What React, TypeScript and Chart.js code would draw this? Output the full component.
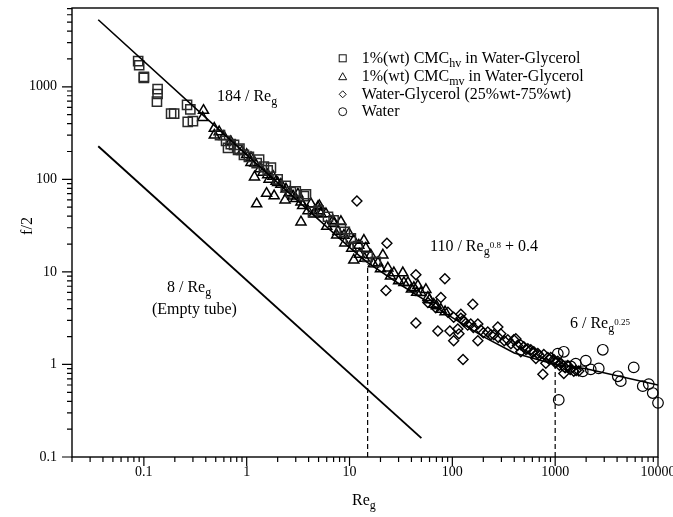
import React, { useEffect, useRef } from 'react';
import { Chart, registerables } from 'chart.js';

Chart.register(...registerables);

const FONT = "'Liberation Serif', 'Times New Roman', serif";

// ---- tick labels ----
const X_TICK_LABELS = ['0.1', '1', '10', '100', '1000', '10000'];
const Y_TICK_LABELS = ['0.1', '1', '10', '100', '1000'];

// ---- series: 1%(wt) CMC_hv in Water-Glycerol (squares) ----
const HV_RE = [0.088, 0.09, 0.1, 0.1, 0.136, 0.136, 0.134, 0.184, 0.197, 0.263, 0.283, 0.267, 0.3, 0.63, 0.658, 0.753, 0.824, 0.94, 1.32, 1.47, 1.72, 2.69, 3.77, 3.6, 4.41, 6.17, 8.25, 10.3, 0.55, 0.7, 0.85, 1.05, 1.25, 1.6, 2.0, 2.4, 3.0, 5.0, 7.0, 9.0, 12, 15, 18];
const HV_F = [1890, 1710, 1280, 1250, 945, 836, 692, 512, 512, 639, 569, 418, 425, 260, 219, 236, 208, 184, 163, 137, 134, 72.7, 69, 66, 44.6, 39.4, 29.4, 23, 300, 240, 215, 175, 150, 125, 100, 85, 74, 46, 36, 27, 19, 14.5, 12.8];

// ---- series: 1%(wt) CMC_mv in Water-Glycerol (triangles) ----
const MV_RE = [0.38, 0.373, 0.484, 0.484, 0.54, 1.1, 1.1, 1.19, 1.56, 1.85, 1.25, 2.36, 3.37, 5.08, 1.8, 1.93, 2.15, 2.41, 3.15, 3.37, 3.94, 5.04, 6.9, 4.93, 5.27, 7.05, 7.71, 8.83, 9.87, 11, 11, 12.3, 13.8, 14.4, 16.1, 18.9, 21.1, 23.6, 27, 33, 37, 46.2, 55.3, 33.8, 42.3, 49.4, 57.8, 66, 77.3, 1.44, 1.65, 2.82, 4.22, 5.9, 8.25, 0.6, 0.7, 0.9, 1.0, 1.2, 1.35, 1.6, 2.0, 2.6, 3.0, 3.5, 4.5, 6.0, 7.5, 9.0, 10.5, 12.5, 14, 17, 20, 25, 30, 40, 45, 60, 70, 85];
const MV_F = [555, 465, 355, 300, 326, 171, 152, 106, 70.4, 66.3, 54.2, 59.7, 34.6, 51.9, 108, 95, 88.5, 78.3, 69.3, 56.9, 45.7, 45.7, 35.8, 50.4, 42.4, 33.2, 27.3, 24.8, 26, 21.9, 13.4, 19.4, 21.9, 18, 15.2, 12.5, 15.2, 11, 9.76, 9.76, 7.64, 7.1, 6.44, 7.64, 6.76, 5.98, 5.29, 4.46, 3.94, 119, 100, 66, 54.2, 42.4, 34.9, 290, 255, 200, 185, 150, 130, 112, 92, 72, 62, 52, 42, 31, 25, 20.5, 18, 15.5, 14, 12.2, 10.8, 9, 8, 6.5, 6, 5, 4.3, 3.7];

// ---- series: Water-Glycerol (diamonds) ----
const WG_RE = [11.8, 23.1, 84.6, 22.6, 44.2, 44.2, 72.3, 94.6, 103, 158, 121, 127, 113, 116, 77.3, 177, 277, 127, 177, 396, 759, 90.6, 103, 141, 189, 221, 253, 296, 346, 414, 463, 542, 620, 775, 906, 1060, 1213, 1517, 463, 57.8, 69, 495, 579, 678, 848, 970, 1135, 1327, 811, 649, 371, 237, 151, 121, 130, 160, 200, 280, 320, 430, 520, 600, 700, 880, 1000, 1100, 1250, 1400, 1600, 1700];
const WG_F = [58.3, 20.4, 8.43, 6.28, 9.29, 2.8, 2.3, 2.3, 1.8, 4.46, 3.49, 3.01, 2.41, 2.14, 5.29, 1.8, 2.54, 1.13, 2.73, 1.85, 0.783, 3.66, 3.24, 2.66, 2.36, 2.24, 2.09, 2.14, 1.85, 1.89, 1.63, 1.48, 1.37, 1.28, 1.19, 1.08, 0.8, 0.843, 1.37, 4.68, 4.1, 1.55, 1.44, 1.31, 1.19, 1.13, 1.03, 0.976, 1.03, 1.16, 1.67, 2.09, 2.73, 3.16, 2.9, 2.5, 2.2, 1.95, 1.8, 1.6, 1.45, 1.35, 1.25, 1.13, 1.05, 0.98, 0.92, 0.88, 0.86, 0.85];

// ---- series: Water (circles) ----
const W_RE = [1060, 1213, 1083, 2904, 1986, 1854, 2653, 5807, 4064, 4345, 7112, 8128, 8890, 10000, 1268, 1585, 1419, 2218];
const W_F = [1.31, 1.37, 0.414, 1.44, 1.1, 0.843, 0.906, 0.929, 0.745, 0.66, 0.583, 0.613, 0.491, 0.385, 0.95, 1.02, 0.95, 0.885];

// ---- correlation curve (184/Re, 110/Re^0.8+0.4, 6/Re^0.25) ----
const FIT_RE = [0.036, 1, 10, 15, 30, 60, 100, 200, 400, 1000, 2000, 10000];
const FIT_F = [5300, 184, 18.4, 12.6, 7.5, 4.6, 3.2, 2.0, 1.33, 1.0, 0.9, 0.6];

// ---- empty tube line 8/Re ----
const EMPTY_RE = [0.036, 50];
const EMPTY_F = [228, 0.16];

// ---- dashed transition markers ----
const DASH1_RE = [15, 15];
const DASH1_F = [0.1, 12];
const DASH2_RE = [1000, 1000];
const DASH2_F = [0.1, 0.95];

const X_MIN = 0.02;
const X_MAX = 10000;
const Y_MIN = 0.1;
const Y_MAX = 7100;

const pts = (xs: number[], ys: number[]) => xs.map((x, i) => ({ x, y: ys[i] }));

function labelFor(v: number, labels: string[]) {
  const e = Math.log10(v);
  const r = Math.round(e);
  if (Math.abs(e - r) > 1e-6) return '';
  const s = r < 0 ? Math.pow(10, r).toFixed(-r) : String(Math.pow(10, r));
  return labels.includes(s) ? s : '';
}

type Seg = [string, 'n' | 'sub' | 'sup'];

function drawRich(ctx: CanvasRenderingContext2D, segs: Seg[], x: number, y: number, size: number) {
  let cx = x;
  ctx.textBaseline = 'alphabetic';
  ctx.textAlign = 'left';
  for (const [t, m] of segs) {
    const fs = m === 'n' ? size : m === 'sub' ? 12 : 9;
    const dy = m === 'sub' ? 4 : m === 'sup' ? -3.5 : 0;
    ctx.font = `${fs}px ${FONT}`;
    ctx.fillText(t, cx, y + dy);
    cx += ctx.measureText(t).width;
  }
}

const decorPlugin = {
  id: 'decor',
  afterDraw(chart: any) {
    const { ctx, chartArea: a, scales } = chart;
    ctx.save();
    ctx.strokeStyle = '#000';
    ctx.fillStyle = '#000';
    ctx.lineWidth = 1.4;
    ctx.strokeRect(a.left, a.top, a.right - a.left, a.bottom - a.top);

    const isMajor = (v: number) => {
      const e = Math.log10(v);
      return Math.abs(e - Math.round(e)) < 1e-6;
    };
    const isTick = (v: number) => {
      const p = Math.pow(10, Math.floor(Math.log10(v) + 1e-9));
      const m = v / p;
      return Math.abs(m - Math.round(m)) < 1e-6;
    };
    ctx.lineWidth = 1.2;
    ctx.beginPath();
    scales.x.ticks.forEach((t: any) => {
      if (!isTick(t.value)) return;
      const px = scales.x.getPixelForValue(t.value);
      const len = isMajor(t.value) ? 9 : 5;
      ctx.moveTo(px, a.bottom);
      ctx.lineTo(px, a.bottom + len);
    });
    scales.y.ticks.forEach((t: any) => {
      if (!isTick(t.value)) return;
      const py = scales.y.getPixelForValue(t.value);
      const len = isMajor(t.value) ? 10 : 5;
      ctx.moveTo(a.left, py);
      ctx.lineTo(a.left - len, py);
    });
    ctx.stroke();

    // annotations
    drawRich(ctx, [['184 / Re', 'n'], ['g', 'sub']], 217, 101, 16);
    drawRich(ctx, [['110 / Re', 'n'], ['g', 'sub'], ['0.8', 'sup'], [' + 0.4', 'n']], 430, 251, 16);
    drawRich(ctx, [['8 / Re', 'n'], ['g', 'sub']], 167, 292, 16);
    drawRich(ctx, [['(Empty tube)', 'n']], 152, 314, 16);
    drawRich(ctx, [['6 / Re', 'n'], ['g', 'sub'], ['0.25', 'sup']], 570, 328, 16);

    // axis titles
    drawRich(ctx, [['Re', 'n'], ['g', 'sub']], 352, 505, 16);
    ctx.save();
    ctx.translate(28, 226);
    ctx.rotate(-Math.PI / 2);
    ctx.font = `16px ${FONT}`;
    ctx.textAlign = 'center';
    ctx.textBaseline = 'middle';
    ctx.fillText('f/2', 0, 0);
    ctx.restore();

    // legend
    const lx = 342.7;
    const rows = [58.3, 76.7, 94.3, 111.7];
    ctx.lineWidth = 1;
    ctx.strokeStyle = '#111';
    ctx.strokeRect(lx - 3.5, rows[0] - 3.5, 7, 7);
    ctx.beginPath();
    ctx.moveTo(lx, rows[1] - 4);
    ctx.lineTo(lx + 4, rows[1] + 3);
    ctx.lineTo(lx - 4, rows[1] + 3);
    ctx.closePath();
    ctx.stroke();
    ctx.beginPath();
    ctx.moveTo(lx, rows[2] - 3.5);
    ctx.lineTo(lx + 3.5, rows[2]);
    ctx.lineTo(lx, rows[2] + 3.5);
    ctx.lineTo(lx - 3.5, rows[2]);
    ctx.closePath();
    ctx.stroke();
    ctx.beginPath();
    ctx.arc(lx, rows[3], 4, 0, Math.PI * 2);
    ctx.stroke();

    const tx = 361.7;
    drawRich(ctx, [['1%(wt) CMC', 'n'], ['hv', 'sub'], [' in Water-Glycerol', 'n']], tx, rows[0] + 4.5, 16);
    drawRich(ctx, [['1%(wt) CMC', 'n'], ['mv', 'sub'], [' in Water-Glycerol', 'n']], tx, rows[1] + 4.5, 16);
    drawRich(ctx, [['Water-Glycerol (25%wt-75%wt)', 'n']], tx, rows[2] + 4.5, 16);
    drawRich(ctx, [['Water', 'n']], tx, rows[3] + 4.5, 16);

    ctx.restore();
  },
};

export default function App() {
  const ref = useRef<HTMLCanvasElement | null>(null);

  useEffect(() => {
    if (!ref.current) return;
    const marker = (style: string, radius: number, color: string, bw: number) => ({
      type: 'scatter' as const,
      showLine: false,
      pointStyle: style,
      pointRadius: radius,
      pointBorderWidth: bw,
      pointBorderColor: color,
      pointBackgroundColor: 'rgba(0,0,0,0)',
      clip: false as any,
    });
    const line = (dash: number[], width: number) => ({
      type: 'scatter' as const,
      showLine: true,
      pointRadius: 0,
      borderColor: '#000',
      borderWidth: width,
      borderDash: dash,
      fill: false,
    });

    const chart = new Chart(ref.current, {
      type: 'scatter',
      data: {
        datasets: [
          { label: 'fit', data: pts(FIT_RE, FIT_F), ...line([], 1.6) },
          { label: 'empty', data: pts(EMPTY_RE, EMPTY_F), ...line([], 1.9) },
          { label: 'd1', data: pts(DASH1_RE, DASH1_F), ...line([5, 3], 1.2) },
          { label: 'd2', data: pts(DASH2_RE, DASH2_F), ...line([5, 3], 1.2) },
          { label: 'CMC hv', data: pts(HV_RE, HV_F), ...marker('rect', 6.5, '#2a2a2a', 1.5) },
          { label: 'CMC mv', data: pts(MV_RE, MV_F), ...marker('triangle', 5.8, '#000', 1.5) },
          { label: 'Water-Glycerol', data: pts(WG_RE, WG_F), ...marker('rectRot', 5, '#000', 1.4) },
          { label: 'Water', data: pts(W_RE, W_F), ...marker('circle', 5.3, '#000', 1.2) },
        ] as any,
      },
      options: {
        animation: false,
        responsive: false,
        devicePixelRatio: 1,
        layout: { padding: { left: 0, top: 1, right: 15, bottom: 0 } },
        plugins: { legend: { display: false }, tooltip: { enabled: false } },
        scales: {
          x: {
            type: 'logarithmic',
            min: X_MIN,
            max: X_MAX,
            grid: { display: false, drawTicks: false },
            border: { display: false },
            ticks: {
              autoSkip: false,
              maxRotation: 0,
              minRotation: 0,
              padding: 7,
              color: '#000',
              font: { family: FONT, size: 14 },
              callback: (v: any) => labelFor(Number(v), X_TICK_LABELS),
            },
            afterFit: (s: any) => {
              s.height = 60;
              s.paddingLeft = 0;
              s.paddingRight = 0;
            },
          },
          y: {
            type: 'logarithmic',
            min: Y_MIN,
            max: Y_MAX,
            grid: { display: false, drawTicks: false },
            border: { display: false },
            ticks: {
              autoSkip: false,
              padding: 15,
              color: '#000',
              font: { family: FONT, size: 14 },
              callback: (v: any) => labelFor(Number(v), Y_TICK_LABELS),
            },
            afterFit: (s: any) => {
              s.width = 72;
              s.paddingTop = 0;
              s.paddingBottom = 0;
            },
          },
        },
      } as any,
      plugins: [decorPlugin],
    });
    return () => chart.destroy();
  }, []);

  return (
    <div style={{ position: 'fixed', left: 0, top: 0, width: 673, height: 517, background: '#fff' }}>
      <canvas ref={ref} width={673} height={517} style={{ display: 'block' }} />
    </div>
  );
}
